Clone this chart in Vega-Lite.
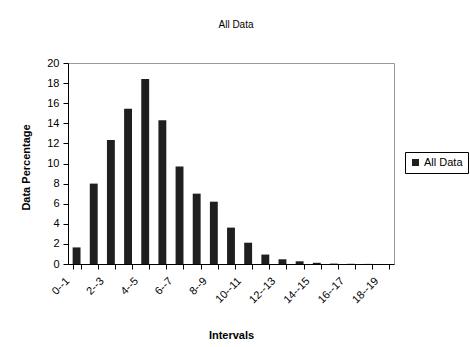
{
  "$schema": "https://vega.github.io/schema/vega-lite/v6.json",
  "autosize": {"type": "none"},
  "width": 326,
  "height": 201,
  "padding": {"left": 68, "top": 63, "right": 76, "bottom": 83},
  "background": "white",
  "config": {
    "font": "Liberation Sans",
    "view": {"stroke": "#999999", "strokeWidth": 1},
    "axis": {"labelFont": "Liberation Sans", "titleFont": "Liberation Sans", "labelColor": "black", "titleColor": "black", "domainColor": "black", "tickColor": "black", "grid": false}
  },
  "title": {"text": "All Data", "fontSize": 10, "fontWeight": "normal", "color": "black", "anchor": "middle", "offset": 27, "dx": 5},
  "data": {
    "values": [
      {"interval": "0--1", "pct": 1.65, "series": "All Data"},
      {"interval": "1--2", "pct": 8.0, "series": "All Data"},
      {"interval": "2--3", "pct": 12.35, "series": "All Data"},
      {"interval": "3--4", "pct": 15.45, "series": "All Data"},
      {"interval": "4--5", "pct": 18.4, "series": "All Data"},
      {"interval": "5--6", "pct": 14.3, "series": "All Data"},
      {"interval": "6--7", "pct": 9.7, "series": "All Data"},
      {"interval": "7--8", "pct": 7.0, "series": "All Data"},
      {"interval": "8--9", "pct": 6.2, "series": "All Data"},
      {"interval": "9--10", "pct": 3.62, "series": "All Data"},
      {"interval": "10--11", "pct": 2.12, "series": "All Data"},
      {"interval": "11--12", "pct": 0.94, "series": "All Data"},
      {"interval": "12--13", "pct": 0.47, "series": "All Data"},
      {"interval": "13--14", "pct": 0.27, "series": "All Data"},
      {"interval": "14--15", "pct": 0.12, "series": "All Data"},
      {"interval": "15--16", "pct": 0.04, "series": "All Data"},
      {"interval": "16--17", "pct": 0.02, "series": "All Data"},
      {"interval": "17--18", "pct": 0.01, "series": "All Data"},
      {"interval": "18--19", "pct": 0.0, "series": "All Data"}
    ]
  },
  "mark": {"type": "bar"},
  "encoding": {
    "x": {
      "field": "interval", "type": "nominal", "sort": null,
      "scale": {"paddingInner": 0.54, "paddingOuter": 0.27},
      "axis": {
        "title": "Intervals", "titleFontSize": 11, "titleFontWeight": "bold", "titleY": 74, "titleBaseline": "alphabetic",
        "labelAngle": -45, "labelAlign": "right", "labelBaseline": "middle", "labelFontSize": 11,
        "labelPadding": 10, "labelOffset": -9,
        "labelExpr": "toNumber(split(datum.value, '--')[0]) % 2 == 0 ? datum.value : ''",
        "tickBand": "extent", "tickSize": 5, "labelOverlap": false
      }
    },
    "y": {
      "field": "pct", "type": "quantitative",
      "scale": {"domain": [0, 20], "nice": false},
      "axis": {
        "title": "Data Percentage", "titleFontSize": 11, "titleFontWeight": "bold",
        "titleX": -39, "titleY": 104, "titleBaseline": "alphabetic", "titleAngle": -90, "titleAlign": "center",
        "values": [0, 2, 4, 6, 8, 10, 12, 14, 16, 18, 20],
        "labelFontSize": 11, "tickSize": 5, "labelPadding": 4
      }
    },
    "color": {
      "field": "series", "type": "nominal",
      "scale": {"range": ["#1f1f1f"]},
      "legend": {
        "title": null, "orient": "none", "legendX": 337, "legendY": 89,
        "symbolType": "square", "symbolSize": 49, "symbolStrokeWidth": 0,
        "labelFontSize": 11, "labelColor": "black", "labelOffset": 3,
        "strokeColor": "black", "padding": 5, "fillColor": "white"
      }
    }
  }
}
